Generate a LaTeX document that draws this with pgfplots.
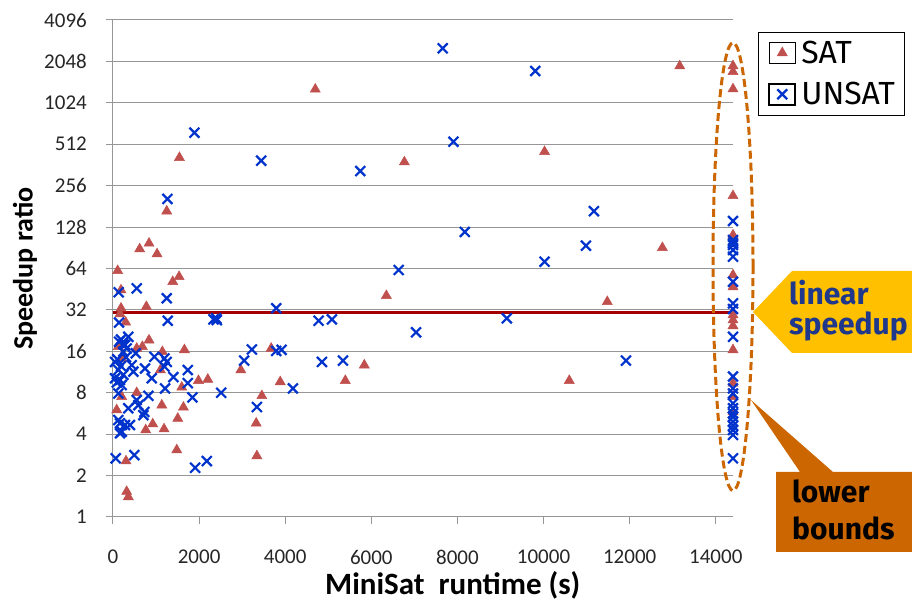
\documentclass[border=0pt]{standalone}
\usepackage{pgfplots}
\pgfplotsset{compat=1.18}
\usepackage{fontspec}
\setmainfont{Carlito}
\newfontfamily\fira{Fira Sans}
\definecolor{satred}{RGB}{192,80,77}
\definecolor{unsatblue}{RGB}{0,51,204}
\definecolor{gridgray}{RGB}{150,150,150}
\definecolor{linred}{RGB}{165,0,0}
\definecolor{callyellow}{RGB}{255,192,0}
\definecolor{callorange}{RGB}{204,102,0}
\definecolor{navytext}{RGB}{31,56,140}
\pgfplotsset{mylegimg/.style={legend image code/.code={\path (0pt,-10.5pt) rectangle (26pt,10.5pt); \draw[##1] plot coordinates {(13pt,0pt)};}}}
\begin{document}
\begin{tikzpicture}[x=1pt,y=1pt]
\begin{axis}[
  at={(0,0)}, anchor=south west,
  scale only axis, width=620pt, height=497pt,
  xmin=0, xmax=14400, ymin=1, ymax=4096,
  ymode=log, log basis y=2,
  scaled x ticks=false,
  axis x line*=bottom, axis y line*=left,
  every outer x axis line/.append style={-},
  every outer y axis line/.append style={-},
  axis line style={draw=gridgray, line width=1pt, -},
  ytick={1,2,4,8,16,32,64,128,256,512,1024,2048,4096},
  yticklabels={1,2,4,8,16,32,64,128,256,512,1024,2048,4096},
  xtick={0,2000,4000,6000,8000,10000,12000,14000},
  xticklabels={0,2000,4000,6000,8000,10000,12000,14000},
  tick align=outside, major tick length=7pt,
  tick style={draw=gridgray, line width=1pt},
  ymajorgrids, grid style={draw=gridgray, line width=1pt},
  ticklabel style={font=\fontsize{21}{25}\selectfont, text=black!85},
  yticklabel style={anchor=east, inner sep=0pt, xshift=-19pt},
  xticklabel style={anchor=north, inner sep=0pt, yshift=-26pt},
  every axis x label/.style={at={(axis description cs:0.548,-0.155)}, anchor=base, font=\bfseries\fontsize{31}{34}\selectfont},
  every axis y label/.style={at={(axis description cs:-0.142,0.5)}, rotate=90, anchor=center, font=\bfseries\fontsize{28}{32}\selectfont},
  xlabel={MiniSat\ \ runtime (s)},
  ylabel={Speedup ratio},
  legend style={at={(axis description cs:1.0398,0.9765)}, anchor=north west, draw=black, line width=1pt, fill=white, inner sep=10pt, column sep=5pt, row sep=19pt, font=\fira\fontsize{32}{32}\selectfont, nodes={inner sep=0pt, text height=21pt, text depth=0pt}},
  legend cell align=left,
]
\addplot[linred, line width=3pt, forget plot] coordinates {(0,30.4) (14400,30.4)};
\addplot[only marks, mark=triangle*, mark size=5.8pt, mark options={draw=satred, fill=satred}, line width=0.5pt, mylegimg]
coordinates {
(4698,1284) (13163,1895) (6767,380) (10023,452) (12760,90.6) (6349,40.6) (11480,36.7)
(5837,12.7) (5395,9.8) (10597,9.8) (3884,9.6) (1543,409) (1248,167) (620,88.7) (837,97.5)
(1023,81.6) (108,61.7) (186,44.6) (1388,51.3) (1535,55.8) (186,32.9) (775,33.8) (163,29.9)
(295,26) (124,17.3) (551,16.8) (682,17.3) (837,19.3) (1147,15.9) (1659,16.4) (1101,11.7)
(1597,8.76) (1985,9.8) (2202,10.0) (551,8.0) (202,7.5) (86,6.0) (1133,6.5) (1636,6.27)
(1504,5.2) (923,4.74) (1186,4.36) (760,4.29) (1481,3.07) (302,2.55) (318,1.53) (356,1.4)
(2969,11.7) (3674,16.8) (3458,7.6) (3326,4.8) (3342,2.78) (202,14.2)
(14400,1900) (14400,1723) (14400,1290) (14400,216) (14400,112) (14400,57.4) (14400,47)
(14400,29.4) (14400,27) (14400,24.5) (14400,16.4) (14400,9.4) (14400,7.5) (14400,5.8)
};
\addlegendentry{SAT}
\addplot[only marks, mark=x, mark size=7pt, mark options={draw=unsatblue}, line width=2.2pt, mylegimg]
coordinates {
(7658,2550) (9807,1745) (7907,534) (5744,327) (11170,167) (8170,118) (10984,93.7) (10023,71.7)
(6635,62.4) (4775,26.7) (5085,27.3) (9147,27.8) (7039,22) (3915,16.4) (4853,13.4) (5341,13.7)
(11914,13.7) (4178,8.6) (1891,621) (3442,389) (1264,205) (132,43) (551,45.9) (1248,38.9)
(140,25.9) (1271,26.7) (2334,27.3) (140,18.8) (356,20.4) (279,17.8) (240,15.9) (318,16.8)
(528,15.5) (961,14.6) (1194,14.2) (1248,13.4) (1194,12.4) (744,12.0) (435,12.7) (473,11.4)
(47,13.4) (124,11.7) (47,10.2) (163,9.9) (202,9.1) (900,10.2) (1737,11.7) (1403,10.4)
(1209,8.6) (1737,9.4) (1845,7.4) (822,7.6) (124,7.9) (551,7.08) (589,6.5) (356,6.17)
(729,5.8) (705,5.5) (124,5.07) (163,4.8) (279,4.66) (395,4.66) (202,4.17) (163,4.06)
(62,2.67) (496,2.82) (1907,2.28) (2179,2.55) (2396,27.8) (2411,27) (3791,32.9) (3226,16.5)
(3047,13.7) (3791,16.1) (2512,8.0) (3342,6.3) (186,19.5) (240,18) (300,14.5) (100,14)
(186,12.5) (90,9.5) (240,10.8)
(14400,141.7) (14400,103) (14400,97.6) (14400,94.8) (14400,87.2) (14400,78) (14400,51.3)
(14400,35.7) (14400,32.5) (14400,20.4) (14400,10.5) (14400,8.6) (14400,7.9) (14400,6.7)
(14400,6.17) (14400,5.67) (14400,5.35) (14400,4.93) (14400,4.6) (14400,4.29) (14400,3.95)
(14400,2.67)
};
\addlegendentry{UNSAT}
\end{axis}
\begin{scope}[shift={(-113pt,517pt)}, x=1pt, y=-1pt]
  \fill[callyellow] (753,312) -- (792,271) -- (930,271) -- (930,353) -- (792,353) -- cycle;
  \node[anchor=base west, inner sep=0pt, font=\fira\bfseries\fontsize{30}{30}\selectfont, text=navytext] at (789,305) {linear};
  \node[anchor=base west, inner sep=0pt, font=\fira\bfseries\fontsize{30}{30}\selectfont, text=navytext] at (789,335) {speedup};
  \fill[callorange] (776,472) -- (800,472) -- (751,400) -- (833,472) -- (930,472) -- (930,552) -- (776,552) -- cycle;
  \node[anchor=base west, inner sep=0pt, font=\fira\bfseries\fontsize{30}{30}\selectfont, text=black] at (792,503) {lower};
  \node[anchor=base west, inner sep=0pt, font=\fira\bfseries\fontsize{30}{30}\selectfont, text=black] at (792,540) {bounds};
  \draw[callorange, line width=3pt, dash pattern=on 8pt off 4pt] (733,266.7) ellipse [x radius=20pt, y radius=224pt];
\end{scope}
\pgfresetboundingbox
\path[use as bounding box] (-113,-84) rectangle (799,517);
\end{tikzpicture}
\end{document}
